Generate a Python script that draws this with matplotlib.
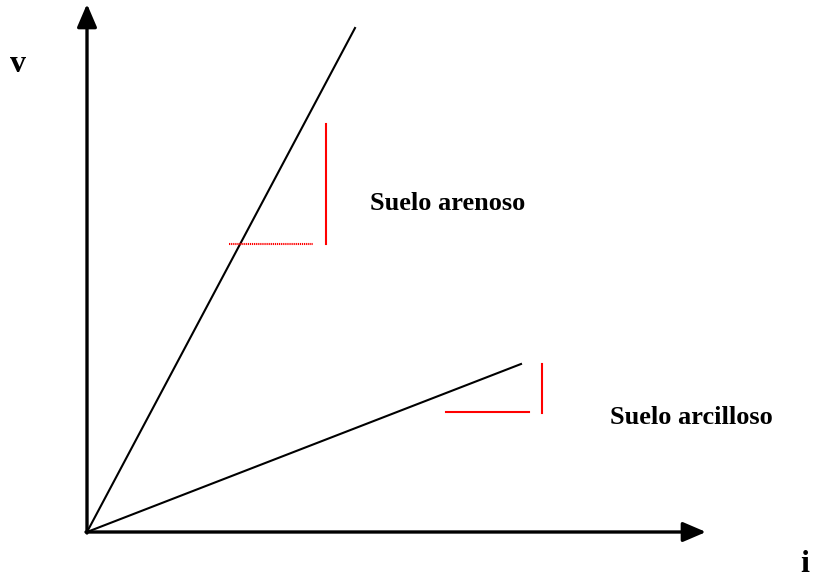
import matplotlib.pyplot as plt

# hydraulic gradient (i) vs velocity (v), two soils
sand_i = [0, 268]
sand_v = [0, 504]
clay_i = [0, 434]
clay_v = [0, 168]

# slope triangles (red)
sand_tri_vert_i = [239, 239]
sand_tri_vert_v = [288, 408]
sand_tri_hor_i = [142, 226]
sand_tri_hor_v = [288, 288]
clay_tri_vert_i = [455, 455]
clay_tri_vert_v = [119, 168]
clay_tri_hor_i = [359, 442]
clay_tri_hor_v = [120, 120]

labels = ["Suelo arenoso", "Suelo arcilloso"]

plt.rcParams['font.family'] = ['Liberation Serif', 'DejaVu Serif']

fig = plt.figure(figsize=(8.14, 5.79), dpi=100)
ax = fig.add_axes([0, 0, 1, 1])
ax.set_xlim(-87, 727)
ax.set_ylim(-47, 532)
ax.axis('off')

# axes with arrow heads
head = '-|>,head_length=1.4,head_width=0.6'
ax.annotate('', xy=(0, 528), xytext=(0, -1),
            arrowprops=dict(arrowstyle=head, color='black', lw=2.4, shrinkA=0, shrinkB=0))
ax.annotate('', xy=(619, 0), xytext=(-1, 0),
            arrowprops=dict(arrowstyle=head, color='black', lw=2.4, shrinkA=0, shrinkB=0))

ax.plot(sand_i, sand_v, color='black', lw=1.5)
ax.plot(clay_i, clay_v, color='black', lw=1.5)

ax.plot(sand_tri_vert_i, sand_tri_vert_v, color='red', lw=1.5)
ax.plot(sand_tri_hor_i, sand_tri_hor_v, color='red', lw=1.5, ls=(0, (0.6, 0.4)))
ax.plot(clay_tri_vert_i, clay_tri_vert_v, color='red', lw=1.5)
ax.plot(clay_tri_hor_i, clay_tri_hor_v, color='red', lw=1.5)

ax.text(283, 329, labels[0], fontsize=19, fontweight='bold', va='center', ha='left')
ax.text(523, 115, labels[1], fontsize=19, fontweight='bold', va='center', ha='left')
ax.text(-77, 467, 'v', fontsize=23, fontweight='bold', va='center', ha='left')
ax.text(713, -33, 'i', fontsize=23, fontweight='bold', va='center', ha='left')

fig.savefig('out.png', dpi=100)
